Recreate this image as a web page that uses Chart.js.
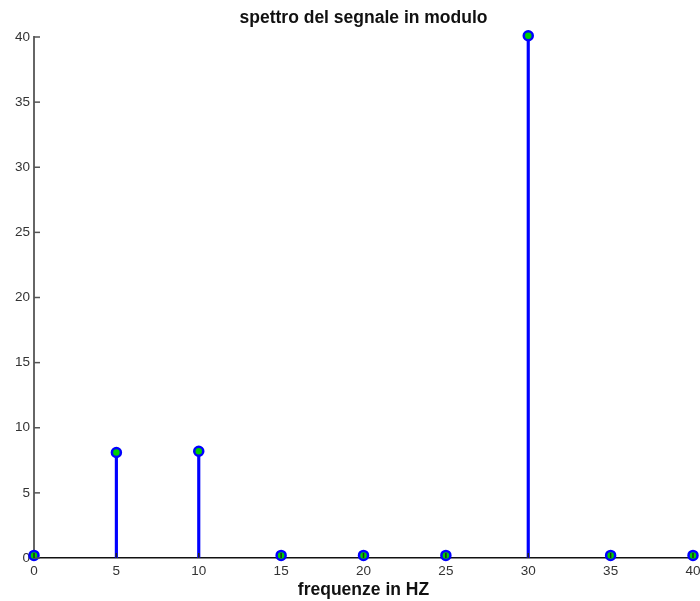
<!DOCTYPE html>
<html lang="it">
<head>
<meta charset="UTF-8">
<title>spettro del segnale in modulo</title>
<script src="https://cdn.jsdelivr.net/npm/chart.js"></script>
<style>
  html, body { margin: 0; padding: 0; background: #fff; }
  #wrap { width: 700px; height: 601px; }
</style>
</head>
<body>
<div id="wrap"><canvas id="spettro" width="700" height="601"></canvas></div>
<script>
  // frequenze (Hz) e modulo dello spettro
  const frequenze = [0, 5, 10, 15, 20, 25, 30, 35, 40];
  const modulo = [0.2, 8.1, 8.2, 0.2, 0.2, 0.2, 40.1, 0.2, 0.2];
  const xTicks = [0, 5, 10, 15, 20, 25, 30, 35, 40];
  const yTicks = [0, 5, 10, 15, 20, 25, 30, 35, 40];

  const punti = frequenze.map((f, i) => ({ x: f, y: modulo[i] }));

  // small tick marks pointing into the plot, like matlab
  const innerTicks = {
    id: 'innerTicks',
    afterDraw(chart) {
      const ctx = chart.ctx;
      const xs = chart.scales.x, ys = chart.scales.y;
      ctx.save();
      ctx.lineWidth = 1.5;
      ctx.strokeStyle = '#555';
      yTicks.forEach(v => {
        let p = ys.getPixelForValue(v);
        ctx.beginPath();
        ctx.moveTo(xs.left, p);
        ctx.lineTo(xs.left + 6, p);
        ctx.stroke();
      });
      ctx.strokeStyle = '#222';
      xTicks.forEach(v => {
        let p = xs.getPixelForValue(v);
        ctx.beginPath();
        ctx.moveTo(p, ys.bottom);
        ctx.lineTo(p, ys.bottom - 5);
        ctx.stroke();
      });
      ctx.restore();
    }
  };

  const font = 'Liberation Sans, Arial, sans-serif';

  new Chart(document.getElementById('spettro'), {
    data: {
      datasets: [{
        type: 'scatter',
        data: punti,
        order: 0,
        clip: false,
        pointRadius: 4.5,
        pointBorderWidth: 2.5,
        pointBackgroundColor: '#00d000',
        pointBorderColor: '#0000ff'
      }, {
        type: 'bar',
        data: punti,
        order: 1,
        barThickness: 2.5,
        backgroundColor: '#0000ff',
        borderWidth: 0
      }]
    },
    options: {
      responsive: false,
      animation: false,
      layout: { autoPadding: false, padding: { left: 0, right: 7, top: 0, bottom: 0 } },
      plugins: {
        legend: { display: false },
        tooltip: { enabled: false },
        title: {
          display: true,
          fullSize: false,
          text: 'spettro del segnale in modulo',
          color: '#111',
          font: { family: font, size: 17.5, weight: 'bold' },
          padding: { top: 8, bottom: 8 }
        }
      },
      scales: {
        x: {
          type: 'linear',
          min: 0,
          max: 40,
          offset: false,
          afterBuildTicks: s => { s.ticks = xTicks.map(v => ({ value: v })); },
          afterFit: s => { s.height = 43; s.paddingLeft = 0; s.paddingRight = 0; },
          grid: { display: false, drawTicks: false },
          border: { display: true, color: '#111', width: 1.5 },
          ticks: {
            padding: 5,
            color: '#333',
            font: { family: font, size: 13.5 }
          },
          title: {
            display: true,
            text: 'frequenze in HZ',
            color: '#111',
            font: { family: font, size: 17.5, weight: 'bold' },
            padding: { top: 1, bottom: 0 }
          }
        },
        y: {
          min: 0,
          max: 40,
          afterBuildTicks: s => { s.ticks = yTicks.map(v => ({ value: v })); },
          afterFit: s => { s.width = 34; s.paddingTop = 0; s.paddingBottom = 0; },
          grid: { display: false, drawTicks: false },
          border: { display: true, color: '#666', width: 2 },
          ticks: {
            padding: 4,
            color: '#333',
            font: { family: font, size: 13.5 }
          }
        }
      }
    },
    plugins: [innerTicks]
  });
</script>
</body>
</html>
